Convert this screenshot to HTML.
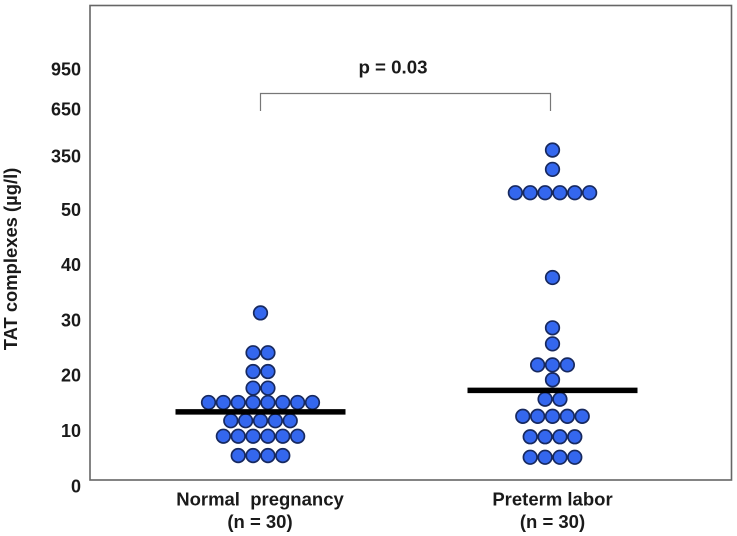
<!DOCTYPE html>
<html>
<head>
<meta charset="utf-8">
<style>
html,body{margin:0;padding:0;background:#fff;}
svg{display:block;filter:blur(0.35px);}
text{font-family:"Liberation Sans",sans-serif;font-weight:bold;fill:#1a1a1a;}
</style>
</head>
<body>
<svg id="chart" xmlns="http://www.w3.org/2000/svg" width="737" height="536" viewBox="0 0 737 536">
  <rect x="90" y="5.5" width="641.5" height="474.5" fill="#fff" stroke="#666" stroke-width="1.6"/>
  <path d="M260.5 111V93.5H550.5V111" fill="none" stroke="#777" stroke-width="1.2"/>
  <text x="393" y="73.5" font-size="18.7" text-anchor="middle">p = 0.03</text>
  <text transform="translate(17,259) rotate(-90)" font-size="18.4" text-anchor="middle">TAT complexes (µg/l)</text>
  <text x="260" y="505.5" font-size="18.5" text-anchor="middle" xml:space="preserve">Normal  pregnancy</text>
  <text x="260" y="528" font-size="18.5" text-anchor="middle">(n = 30)</text>
  <text x="552.5" y="505.5" font-size="18.5" text-anchor="middle">Preterm labor</text>
  <text x="552.5" y="528" font-size="18.5" text-anchor="middle">(n = 30)</text>
  <g id="ticks"></g>
  <g id="dots"></g>
  <g id="means"></g>
</svg>
<script>
const tickLabels = [0, 10, 20, 30, 40, 50, 350, 650, 950];
const normalValues = [5.5,5.5,5.5,5.5,9,9,9,9,9,9,11.8,11.8,11.8,11.8,11.8,15.1,15.1,15.1,15.1,15.1,15.1,15.1,15.1,17.7,17.7,20.7,20.7,24.1,24.1,31.3];
const pretermValues = [5.2,5.2,5.2,5.2,8.9,8.9,8.9,8.9,12.6,12.6,12.6,12.6,12.6,15.7,15.7,19.2,21.9,21.9,21.9,25.7,28.6,37.7,144,144,144,144,144,144,275,388];
const groupMeans = [13.4, 17.3];

const svgNS = 'http://www.w3.org/2000/svg';
const knotValues = [0, 50, 350, 650, 950];
const knotPixels = [486, 209.5, 156, 109, 69];

function yScale(v) {
  let i = 0;
  while (i < knotValues.length - 2 && v > knotValues[i + 1]) i++;
  const t = (v - knotValues[i]) / (knotValues[i + 1] - knotValues[i]);
  return knotPixels[i] + t * (knotPixels[i + 1] - knotPixels[i]);
}

const groupCenters = [260.5, 552.5];
const dotSpacing = 14.85;

const ticksLayer = document.getElementById('ticks');
tickLabels.forEach(function (v) {
  const t = document.createElementNS(svgNS, 'text');
  
  
  t.setAttribute('x', 81);
  t.setAttribute('y', yScale(v) + 6.3);
  t.setAttribute('font-size', '18');
  t.setAttribute('text-anchor', 'end');
  t.textContent = v;
  ticksLayer.appendChild(t);
});

const dotsLayer = document.getElementById('dots');
[normalValues, pretermValues].forEach(function (values, g) {
  const rows = new Map();
  values.forEach(function (v) {
    rows.set(v, (rows.get(v) || 0) + 1);
  });
  rows.forEach(function (count, v) {
    for (let i = 0; i < count; i++) {
      const c = document.createElementNS(svgNS, 'circle');
      
      
      c.setAttribute('cx', groupCenters[g] + (i - (count - 1) / 2) * dotSpacing);
      c.setAttribute('cy', yScale(v));
      c.setAttribute('r', 6.8);
      c.setAttribute('fill', '#3467ee');
      c.setAttribute('stroke', '#17295f');
      c.setAttribute('stroke-width', '1.7');
      dotsLayer.appendChild(c);
    }
  });
});

const meansLayer = document.getElementById('means');
groupMeans.forEach(function (m, g) {
  const l = document.createElementNS(svgNS, 'line');
  
  
  l.setAttribute('x1', groupCenters[g] - 85);
  l.setAttribute('x2', groupCenters[g] + 85);
  l.setAttribute('y1', yScale(m));
  l.setAttribute('y2', yScale(m));
  l.setAttribute('stroke', '#000');
  l.setAttribute('stroke-width', '5.5');
  meansLayer.appendChild(l);
});
</script>
</body>
</html>
